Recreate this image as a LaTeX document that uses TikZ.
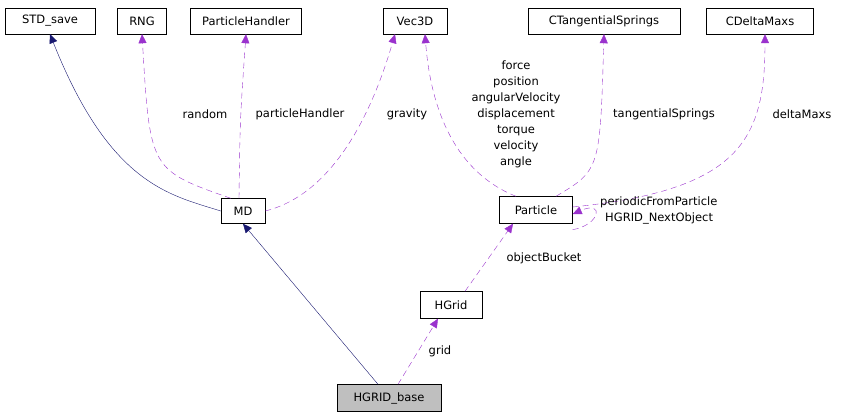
\documentclass[tikz,border=0pt]{standalone}
\usepackage{fontspec}
\setmainfont{DejaVu Sans}
\definecolor{dxPurple}{HTML}{9A32CD}
\definecolor{dxNavy}{HTML}{191970}
\definecolor{dxGray}{HTML}{BFBFBF}
\usetikzlibrary{arrows.meta}

\begin{document}
\begin{tikzpicture}[x=1pt,y=-1pt,
    cls/.style={draw, fill=white, font=\fontsize{11.5}{14}\selectfont, minimum height=26pt, inner xsep=4pt},
    uses/.style={draw=dxPurple, dash pattern=on 6pt off 4pt, -{Triangle[length=9pt,width=8pt,fill=dxPurple]}},
    isa/.style={draw=dxNavy, -{Triangle[length=9pt,width=8pt,fill=dxNavy]}},
    lbl/.style={font=\fontsize{11.5}{16}\selectfont, align=center, inner sep=1pt}]
  \useasboundingbox (0,0) rectangle (845,419);
  % classes
  \node[cls, minimum width=90pt] (stdsave) at (50,21) {STD\_save};
  \node[cls, minimum width=49pt] (rng) at (142,21) {RNG};
  \node[cls, minimum width=111pt] (phandler) at (246,21) {ParticleHandler};
  \node[cls, minimum width=64pt] (vec) at (415,21) {Vec3D};
  \node[cls, minimum width=152pt] (tsprings) at (604,21) {CTangentialSprings};
  \node[cls, minimum width=107pt] (dmaxs) at (760,21) {CDeltaMaxs};
  \node[cls, minimum width=44pt, minimum height=25pt] (md) at (243,211) {MD};
  \node[cls, minimum width=73pt, minimum height=27pt] (particle) at (536,210) {Particle};
  \node[cls, minimum width=62pt, minimum height=27pt] (hgrid) at (451,305) {HGrid};
  \node[cls, minimum width=104pt, minimum height=27pt, fill=dxGray] (base) at (389,398) {HGRID\_base};
  % inheritance
  \draw[isa] (md.west) .. controls (170,195) and (110,185) .. (stdsave.south);
  \draw[isa] ([xshift=-11pt]base.north) -- (md.south);
  % members of MD
  \draw[uses] ([xshift=10pt]md.north west) .. controls (150,170) .. (rng.south);
  \draw[uses] ([xshift=-4pt]md.north) .. controls (240,120) .. (phandler.south);
  \draw[uses] (md.east) .. controls (330,195) and (370,120) .. ([xshift=-20pt]vec.south);
  \node[lbl] (lrandom) at (205,114) {random};
  \node[lbl] (lph) at (300,114) {particleHandler};
  \node[lbl] (lgrav) at (407,114) {gravity};
  % members of Particle
  \draw[uses] ([xshift=-20pt]particle.north) .. controls (450,170) and (430,100) .. ([xshift=10pt]vec.south);
  \draw[uses] ([xshift=20pt]particle.north) .. controls (600,170) .. (tsprings.south);
  \draw[uses] ([yshift=3pt]particle.east) .. controls (740,190) and (765,140) .. ([xshift=5pt]dmaxs.south);
  \draw[uses] ([yshift=-6pt]particle.south east) .. controls (600,225) and (605,200) .. ([yshift=-4pt]particle.east);
  \node[lbl] (lvec) at (516,114) {force\\position\\angularVelocity\\displacement\\torque\\velocity\\angle};
  \node[lbl] (lts) at (664,114) {tangentialSprings};
  \node[lbl] (ldm) at (802,114) {deltaMaxs};
  \node[lbl, anchor=west, align=left] (lself) at (599,210) {periodicFromParticle\\\hspace*{5pt}HGRID\_NextObject};
  % grid chain
  \draw[uses] ([xshift=14pt]hgrid.north) -- ([xshift=-23pt]particle.south);
  \draw[uses] ([xshift=9pt]base.north) -- ([xshift=-13pt]hgrid.south);
  \node[lbl] (lbucket) at (544,258) {objectBucket};
  \node[lbl] (lgrid) at (440,351) {grid};
\end{tikzpicture}
\end{document}
